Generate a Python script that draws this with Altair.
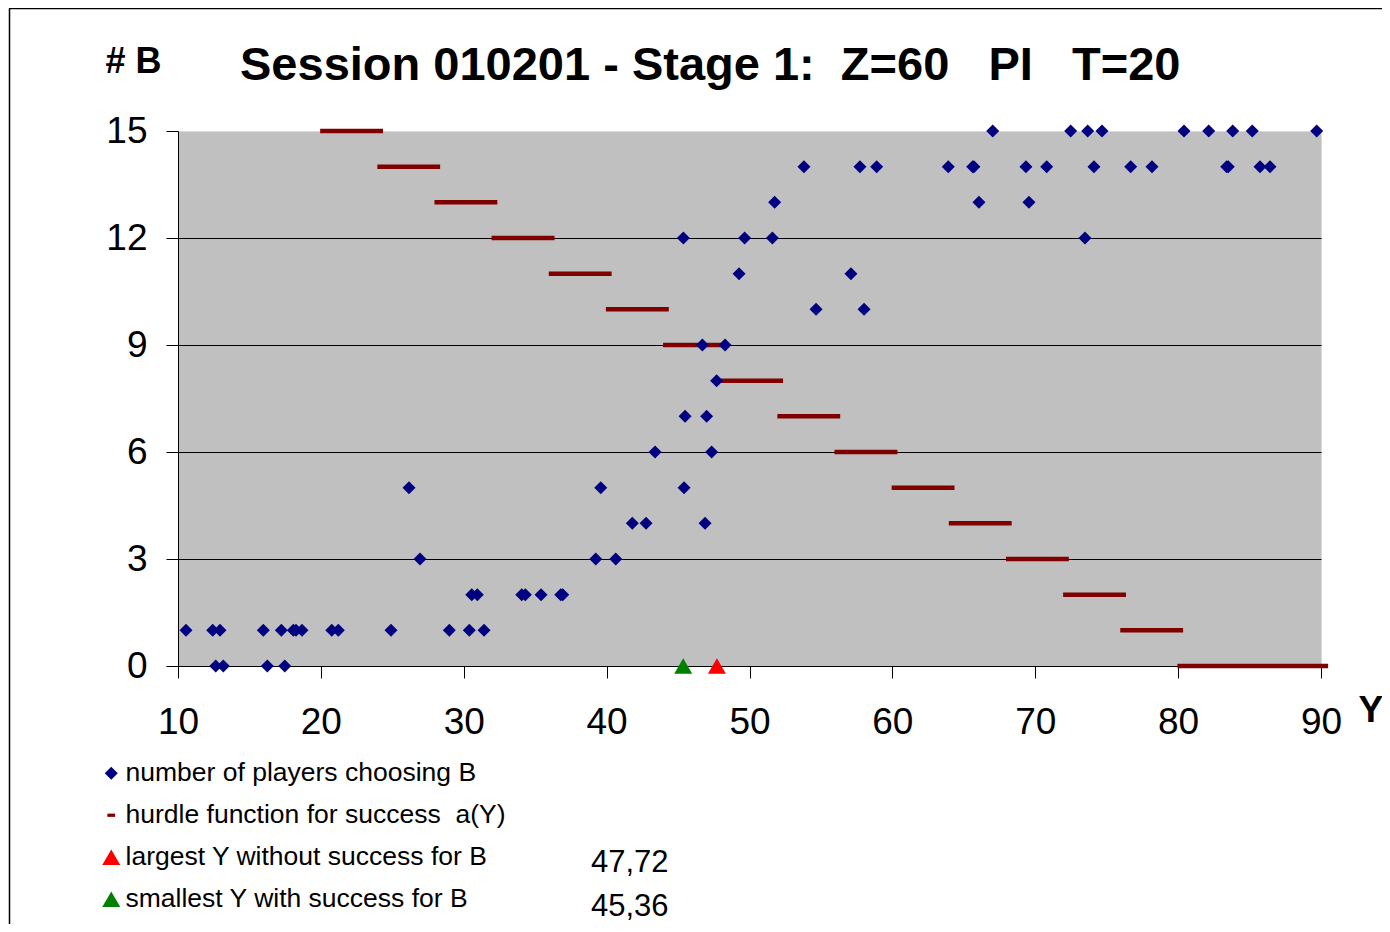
import altair as alt
import pandas as pd

# ---- data ----
x_players = [12.64, 13.17, 16.25, 17.47,
             10.56, 12.43, 12.94, 15.97, 17.23, 18.07, 18.26, 18.68, 20.76, 21.22, 24.91, 28.99, 30.39, 31.42,
             30.56, 30.95, 34.06, 34.31, 35.41, 36.79, 36.93,
             26.94, 39.24, 40.64,
             41.80, 42.76, 46.89,
             26.17, 39.59, 45.42,
             43.39, 47.35,
             45.49, 47.00,
             47.70,
             46.70, 48.29,
             54.66, 58.02,
             49.27, 57.10,
             45.37, 49.66, 51.60, 73.48,
             51.76, 66.06, 69.56,
             53.81, 57.73, 58.90, 63.91, 65.62, 65.71, 69.35, 70.80, 74.11, 76.68, 78.17, 83.40, 83.51, 85.73, 86.43,
             67.02, 72.48, 73.67, 74.67, 80.41, 82.14, 83.82, 85.19, 89.70]
n_players = [0, 0, 0, 0,
             1, 1, 1, 1, 1, 1, 1, 1, 1, 1, 1, 1, 1, 1,
             2, 2, 2, 2, 2, 2, 2,
             3, 3, 3,
             4, 4, 4,
             5, 5, 5,
             6, 6,
             7, 7,
             8,
             9, 9,
             10, 10,
             11, 11,
             12, 12, 12, 12,
             13, 13, 13,
             14, 14, 14, 14, 14, 14, 14, 14, 14, 14, 14, 14, 14, 14, 14,
             15, 15, 15, 15, 15, 15, 15, 15, 15]

hurdle_level = [15, 14, 13, 12, 11, 10, 9, 8, 7, 6, 5, 4, 3, 2, 1, 0]
hurdle_start = [19.95, 23.95, 27.95, 31.95, 35.95, 39.95, 43.95, 47.95,
                51.95, 55.95, 59.95, 63.95, 67.95, 71.95, 75.95, 79.95]
hurdle_end = [24.35, 28.35, 32.35, 36.35, 40.35, 44.35, 48.35, 52.35,
              56.35, 60.35, 64.35, 68.35, 72.35, 76.35, 80.35, 90.50]

tri_x = [47.72, 45.36]
tri_n = [0, 0]

NB = "\u00a0"
S_PLAY = "number of players choosing B"
S_HURD = "hurdle function for success" + NB + " a(Y)"
S_RED = "largest Y without success for B"
S_GREEN = "smallest Y with success for B"
series_names = [S_PLAY, S_HURD, S_RED, S_GREEN]
series_colors = ["#000080", "#800000", "#FF0000", "#008000"]
series_shapes = ["diamond", "M-0.6,-0.25L0.6,-0.25L0.6,0.25L-0.6,0.25Z", "triangle-up", "triangle-up"]
series_sizes = [169, 169, 324, 324]

title_text = "Session 010201 - Stage 1:" + NB + " Z=60" + NB * 2 + " PI" + NB * 2 + " T=20"
x_ticks = [10, 20, 30, 40, 50, 60, 70, 80, 90]
y_ticks = [0, 3, 6, 9, 12, 15]

FONT = "Liberation Sans"

# ---- tables ----
df_pts = pd.DataFrame({
    "x": x_players + tri_x,
    "n": n_players + tri_n,
    "series": [S_PLAY] * len(x_players) + [S_RED, S_GREEN],
})
df_h = pd.DataFrame({"start": hurdle_start, "end": hurdle_end, "level": hurdle_level})
df_vals = pd.DataFrame({
    "series": [S_RED, S_GREEN],
    "label": [f"{v:.2f}".replace(".", ",") for v in tri_x],
})
df_title = pd.DataFrame({"t": [title_text]})
df_one = pd.DataFrame({"k": [0]})

W, H = 1143, 535

x_scale = alt.Scale(domain=[10, 90], nice=False, zero=False)
y_scale = alt.Scale(domain=[0, 15], nice=False, zero=False)

x_axis = alt.Axis(
    values=x_ticks, title="Y", titleX=1180, titleY=55, titleAlign="left",
    titleBaseline="alphabetic", titleFontSize=37, titleFontWeight="bold", titleFont=FONT,
    titleColor="black", labelFontSize=37, labelFont=FONT, labelColor="black",
    labelPadding=26, tickSize=12, tickColor="black", domainColor="black",
    grid=False, labelFlush=False, labelOverlap=False,
)
y_axis = alt.Axis(
    values=y_ticks, title="# B", titleAngle=0, titleX=-73, titleY=-59, titleAlign="left",
    titleBaseline="alphabetic", titleFontSize=36, titleFontWeight="bold", titleFont=FONT,
    titleColor="black", labelFontSize=37, labelFont=FONT, labelColor="black",
    labelPadding=19, tickSize=12, tickColor="black", domainColor="black",
    grid=True, gridWidth=1,
    gridColor={"condition": {"test": "datum.value === 15", "value": "#d9d9d9"}, "value": "#000000"},
    labelFlush=False, labelOverlap=False,
)

X = alt.X("x:Q", scale=x_scale, axis=x_axis, title="Y")
Y = alt.Y("n:Q", scale=y_scale, axis=y_axis, title="# B")

legend = alt.Legend(title=None)

points = alt.Chart(df_pts).mark_point(filled=True, opacity=1, strokeWidth=0).encode(
    x=X,
    y=Y,
    color=alt.Color("series:N", scale=alt.Scale(domain=series_names, range=series_colors), legend=legend),
    shape=alt.Shape("series:N", scale=alt.Scale(domain=series_names, range=series_shapes), legend=legend),
    size=alt.Size("series:N", scale=alt.Scale(type="ordinal", domain=series_names, range=series_sizes), legend=legend),
)

hurdle = alt.Chart(df_h).mark_rule(strokeWidth=4.5, color="#800000").encode(
    x=alt.X("start:Q", scale=x_scale, axis=x_axis, title="Y"),
    x2="end:Q",
    y=alt.Y("level:Q", scale=y_scale, axis=y_axis, title="# B"),
)

title = alt.Chart(df_title).mark_text(
    align="left", baseline="alphabetic", fontSize=47, fontWeight="bold", font=FONT, color="black"
).encode(x=alt.value(62), y=alt.value(-51), text="t:N")

val1 = alt.Chart(df_vals).transform_filter(alt.datum.series == S_RED).mark_text(
    align="left", baseline="middle", fontSize=31, font=FONT, color="black"
).encode(x=alt.value(413), y=alt.value(732), text="label:N")
val2 = alt.Chart(df_vals).transform_filter(alt.datum.series == S_GREEN).mark_text(
    align="left", baseline="middle", fontSize=31, font=FONT, color="black"
).encode(x=alt.value(413), y=alt.value(776), text="label:N")

frame_left = alt.Chart(df_one).mark_rule(color="black", strokeWidth=1.5).encode(
    x=alt.value(-168.5), y=alt.value(-122.5), y2=alt.value(793))
frame_top = alt.Chart(df_one).mark_rule(color="black", strokeWidth=1.5).encode(
    x=alt.value(-169), x2=alt.value(1204), y=alt.value(-122.5))

chart = alt.layer(hurdle, points, title, val1, val2, frame_left, frame_top).properties(
    width=W, height=H,
    autosize=alt.AutoSizeParams(type="none"),
    padding={"left": 170, "top": 123, "right": 61, "bottom": 258},
    background="white",
).configure_view(
    fill="#C0C0C0", stroke="#d9d9d9", strokeWidth=1
).configure_legend(
    orient="none", legendX=-80, legendY=629, padding=0,
    labelFontSize=26.5, labelFont=FONT, labelColor="black", labelLimit=600,
    rowPadding=15, labelOffset=1, symbolOpacity=1, symbolStrokeWidth=0,
)

chart.save("out.html", embed_options={"renderer": "svg", "actions": False})
